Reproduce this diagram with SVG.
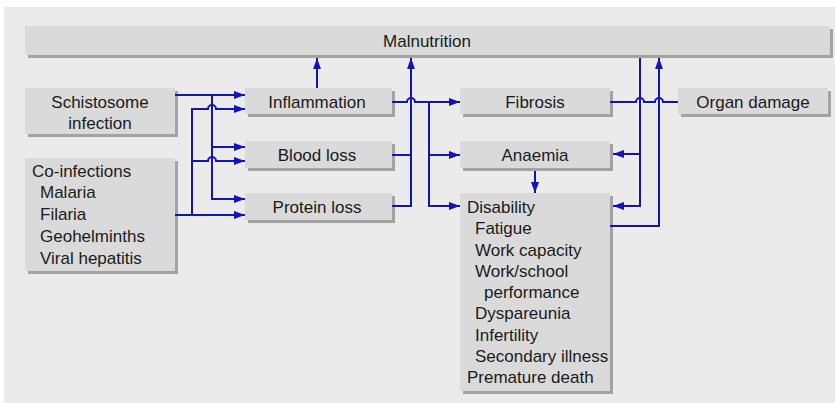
<svg xmlns="http://www.w3.org/2000/svg" width="835" height="403" viewBox="0 0 835 403">
<defs>
<style>
.sh{fill:#a3a3a3}
.bx{fill:#dadada}
.t{font-family:"Liberation Sans",Arial,sans-serif;font-size:17px;fill:#1a1a1a}
.c{text-anchor:middle}
.ln{fill:none;stroke:#1414b4;stroke-width:2}
</style>
<marker id="ah" markerUnits="userSpaceOnUse" markerWidth="11" markerHeight="8" refX="11" refY="4" orient="auto">
<path d="M0,0 L11,4 L0,8 z" fill="#1414b4"/>
</marker>
</defs>
<rect x="0" y="0" width="835" height="403" fill="#ffffff"/>
<rect x="4" y="7" width="831" height="396" fill="#ebebeb"/>

<g id="malnutrition">
<rect class="sh" x="28" y="29" width="805" height="29"/>
<rect class="bx" x="25" y="26" width="805" height="29"/>
<text class="t c" x="427" y="47">Malnutrition</text>
</g>
<g id="schistosome">
<rect class="sh" x="28" y="91" width="150" height="46"/>
<rect class="bx" x="25" y="88" width="150" height="46"/>
<text class="t c" x="100" y="108">Schistosome</text>
<text class="t c" x="100" y="129">infection</text>
</g>
<g id="coinfections">
<rect class="sh" x="28" y="161" width="150" height="113"/>
<rect class="bx" x="25" y="158" width="150" height="113"/>
<text class="t" x="32" y="177">Co-infections</text>
<text class="t" x="40" y="198">Malaria</text>
<text class="t" x="40" y="220">Filaria</text>
<text class="t" x="40" y="242">Geohelminths</text>
<text class="t" x="40" y="264">Viral hepatitis</text>
</g>
<g id="inflammation">
<rect class="sh" x="248" y="91" width="147" height="26"/>
<rect class="bx" x="245" y="88" width="147" height="26"/>
<text class="t c" x="317" y="108">Inflammation</text>
</g>
<g id="bloodloss">
<rect class="sh" x="248" y="144" width="147" height="27"/>
<rect class="bx" x="245" y="141" width="147" height="27"/>
<text class="t c" x="317" y="161">Blood loss</text>
</g>
<g id="proteinloss">
<rect class="sh" x="248" y="196" width="147" height="27"/>
<rect class="bx" x="245" y="193" width="147" height="27"/>
<text class="t c" x="317" y="213">Protein loss</text>
</g>
<g id="fibrosis">
<rect class="sh" x="463" y="91" width="150" height="26"/>
<rect class="bx" x="460" y="88" width="150" height="26"/>
<text class="t c" x="535" y="108">Fibrosis</text>
</g>
<g id="organdamage">
<rect class="sh" x="681" y="91" width="150" height="26"/>
<rect class="bx" x="678" y="88" width="150" height="26"/>
<text class="t c" x="753" y="108">Organ damage</text>
</g>
<g id="anaemia">
<rect class="sh" x="463" y="144" width="150" height="27"/>
<rect class="bx" x="460" y="141" width="150" height="27"/>
<text class="t c" x="535" y="161">Anaemia</text>
</g>
<g id="disability">
<rect class="sh" x="463" y="196" width="150" height="198"/>
<rect class="bx" x="460" y="193" width="150" height="198"/>
<text class="t" x="467" y="213">Disability</text>
<text class="t" x="475" y="234">Fatigue</text>
<text class="t" x="475" y="256">Work capacity</text>
<text class="t" x="475" y="277">Work/school</text>
<text class="t" x="484" y="298">performance</text>
<text class="t" x="475" y="319">Dyspareunia</text>
<text class="t" x="475" y="341">Infertility</text>
<text class="t" x="475" y="362">Secondary illness</text>
<text class="t" x="467" y="383">Premature death</text>
</g>

<g id="connectors">
<path class="ln" d="M175,95 H245" marker-end="url(#ah)"/>
<path class="ln" d="M212,95 V199 H245" marker-end="url(#ah)"/>
<path class="ln" d="M212,147 H245" marker-end="url(#ah)"/>
<path class="ln" d="M175,215 H245" marker-end="url(#ah)"/>
<path class="ln" d="M192,215 V109 H208 A4,4 0 0 1 216,109 H245" marker-end="url(#ah)"/>
<path class="ln" d="M192,161 H208 A4,4 0 0 1 216,161 H245" marker-end="url(#ah)"/>
<path class="ln" d="M317,88 V58" marker-end="url(#ah)"/>
<path class="ln" d="M392,102 H407 A4,4 0 0 1 415,102 H460" marker-end="url(#ah)"/>
<path class="ln" d="M392,206 H411 V58" marker-end="url(#ah)"/>
<path class="ln" d="M392,155 H411"/>
<path class="ln" d="M429,102 V206 H460" marker-end="url(#ah)"/>
<path class="ln" d="M429,155 H460" marker-end="url(#ah)"/>
<path class="ln" d="M640,58 V206 H613" marker-end="url(#ah)"/>
<path class="ln" d="M640,154 H613" marker-end="url(#ah)"/>
<path class="ln" d="M610,226 H659 V58" marker-end="url(#ah)"/>
<path class="ln" d="M610,102 H636 A4,4 0 0 1 644,102 H655 A4,4 0 0 1 663,102 H678"/>
<path class="ln" d="M535,171 V193" marker-end="url(#ah)"/>
</g>
</svg>
